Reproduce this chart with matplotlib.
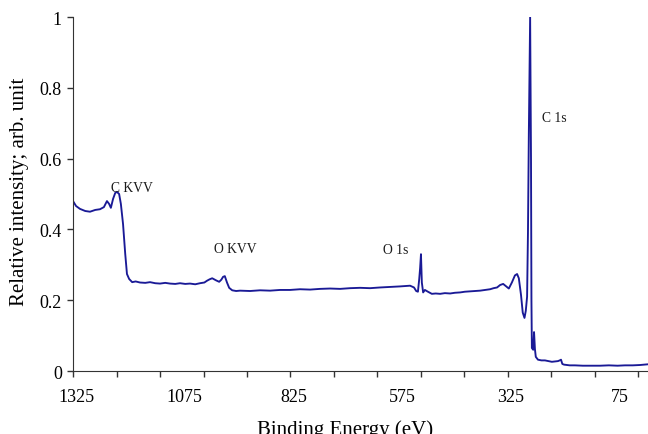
import matplotlib.pyplot as plt

# XPS survey spectrum (binding energy in eV, relative intensity)
energy = [1332, 1325, 1316, 1304, 1293, 1281, 1270, 1261, 1254, 1249, 1245, 1240,
          1235, 1231, 1226, 1222, 1217, 1212, 1208, 1203, 1196, 1188, 1178, 1166,
          1155, 1143, 1132, 1120, 1109, 1097, 1086, 1074, 1063, 1051, 1040, 1030,
          1024, 1018, 1012, 1003, 996, 991, 987, 983, 978, 973, 966, 957, 948, 925,
          902, 879, 856, 833, 810, 787, 764, 741, 718, 695, 672, 649, 626, 609, 592,
          580, 569, 557, 548, 543, 539, 536, 534, 532, 530, 527, 523, 516, 507, 498,
          488, 477, 465, 454, 442, 431, 419, 408, 396, 385, 373, 365, 357, 350, 343,
          337, 330, 323, 316, 311, 307, 302, 298, 294, 291, 288, 286, 284, 281, 279,
          278, 277, 274, 272, 270, 268, 263, 255, 247, 239, 231, 224, 217, 213, 210,
          207, 203, 190, 178, 160, 140, 120, 100, 80, 63, 45, 28, 10]
intensity = [0.480, 0.466, 0.458, 0.452, 0.450, 0.455, 0.457, 0.463, 0.480, 0.472,
             0.461, 0.486, 0.503, 0.506, 0.500, 0.472, 0.415, 0.331, 0.274, 0.260,
             0.251, 0.253, 0.250, 0.249, 0.251, 0.248, 0.247, 0.249, 0.247, 0.246,
             0.248, 0.246, 0.247, 0.245, 0.248, 0.250, 0.255, 0.259, 0.262, 0.256,
             0.252, 0.258, 0.266, 0.268, 0.250, 0.235, 0.228, 0.226, 0.227, 0.226,
             0.228, 0.227, 0.229, 0.229, 0.231, 0.230, 0.232, 0.233, 0.232, 0.234,
             0.235, 0.234, 0.236, 0.237, 0.238, 0.239, 0.240, 0.241, 0.236, 0.226,
             0.224, 0.260, 0.290, 0.330, 0.250, 0.222, 0.229, 0.224, 0.218, 0.219,
             0.218, 0.220, 0.219, 0.221, 0.222, 0.224, 0.225, 0.226, 0.227, 0.229,
             0.231, 0.234, 0.236, 0.243, 0.246, 0.240, 0.233, 0.250, 0.270, 0.274,
             0.262, 0.215, 0.165, 0.150, 0.170, 0.210, 0.390, 0.670, 1.000, 0.600,
             0.200, 0.065, 0.060, 0.110, 0.062, 0.040, 0.032, 0.030, 0.030, 0.028,
             0.026, 0.027, 0.028, 0.030, 0.032, 0.020, 0.018, 0.016, 0.016, 0.015,
             0.015, 0.015, 0.016, 0.015, 0.016, 0.016, 0.017, 0.019]

# peak labels
peak_names = ['C KVV', 'O KVV', 'O 1s', 'C 1s']
peak_x = [1245, 1008, 619, 254]
peak_y = [0.517, 0.345, 0.342, 0.715]

label_ticks = [1325, 1075, 825, 575, 325, 75]
minor_ticks = [1332, 1232, 1132, 1032, 932, 832, 732, 632, 532, 432, 332, 232, 132, 32]
y_ticks = [0, 0.2, 0.4, 0.6, 0.8, 1]
y_labels = ['0', '0.2', '0.4', '0.6', '0.8', '1']

plt.rcParams['font.family'] = 'Liberation Serif'

fig = plt.figure(figsize=(6.48, 4.35), dpi=100)
ax = fig.add_axes([0.1127, 0.1448, 0.8873, 0.8138])

ax.plot(energy, intensity, color='#1a1a96', linewidth=1.35)

for name, x, y in zip(peak_names, peak_x, peak_y):
    ax.text(x, y, name, fontsize=9.8, ha='left', va='center', color='#1a1a1a')

ax.set_xlim(1332, 10)
ax.set_ylim(0, 1)

ax.set_xticks(label_ticks)
ax.set_xticks(minor_ticks, minor=True)
ax.tick_params(axis='x', which='major', length=0, pad=12, labelsize=13)
ax.tick_params(axis='x', which='minor', length=4, width=1, color='#333333')
ax.set_yticks(y_ticks)
ax.set_yticklabels(y_labels)
ax.tick_params(axis='y', length=4, width=1, pad=4, labelsize=13, color='#333333')

ax.spines['top'].set_visible(False)
ax.spines['right'].set_visible(False)
ax.spines['left'].set_color('#333333')
ax.spines['bottom'].set_color('#333333')

ax.set_xlabel('Binding Energy (eV)', fontsize=15, va='top')
ax.xaxis.set_label_coords(0.473, -0.135)
ax.set_ylabel('Relative intensity; arb. unit', fontsize=15)
ax.yaxis.set_label_coords(-0.077, 0.51)

fig.savefig('out.png', dpi=100)
